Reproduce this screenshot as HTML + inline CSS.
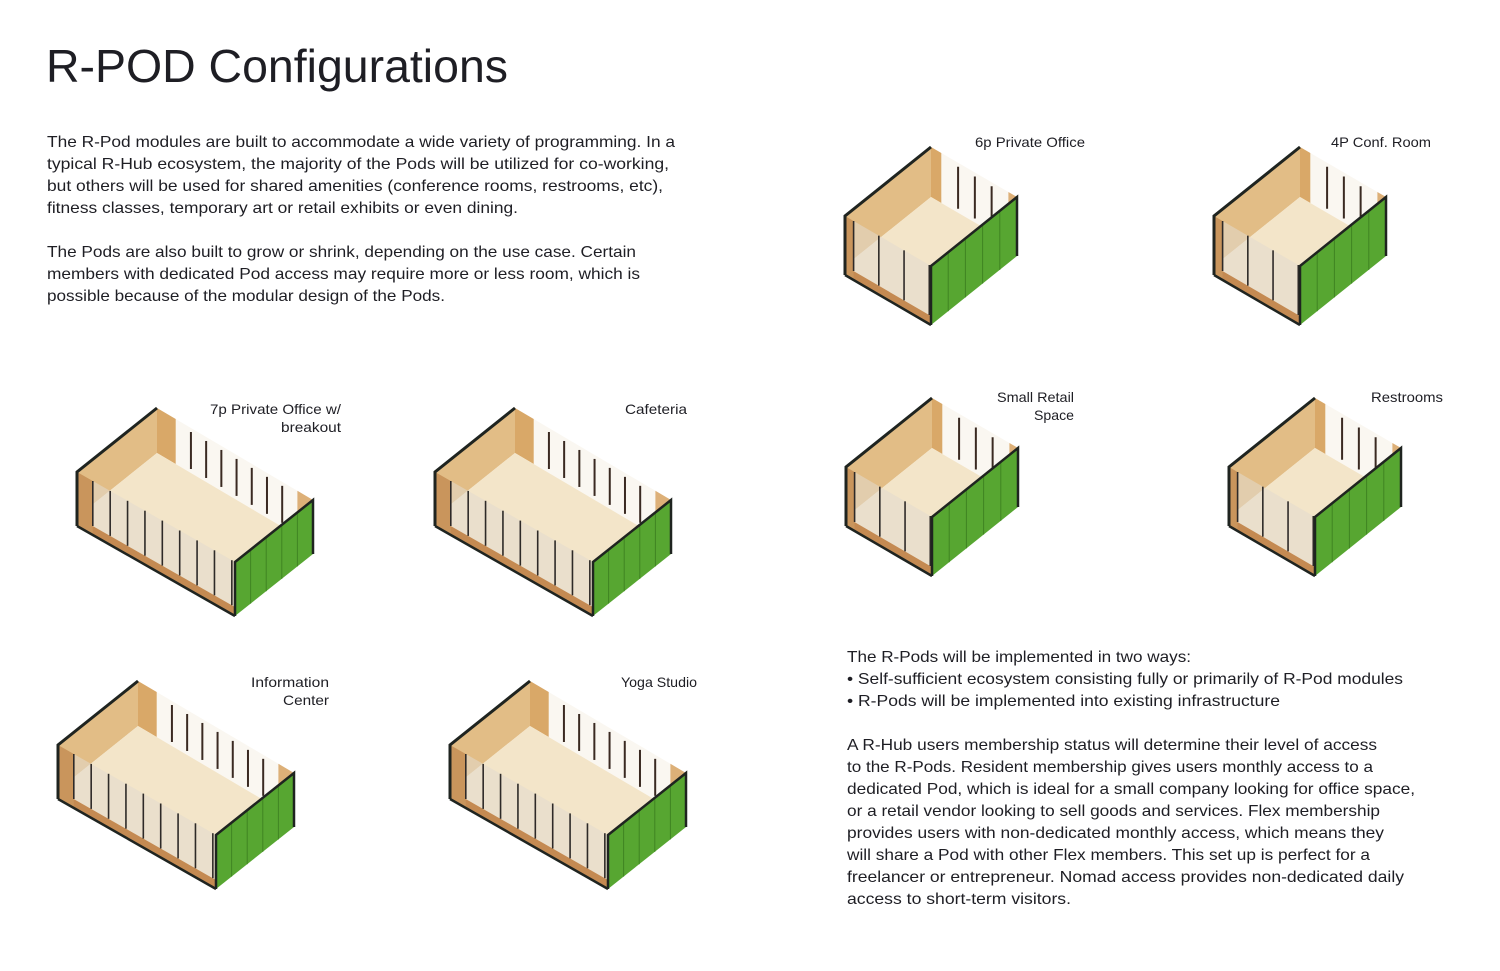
<!DOCTYPE html>
<html><head><meta charset="utf-8">
<style>
html,body{margin:0;padding:0;background:#fff;}
svg{display:block;}
text{font-family:"Liberation Sans",sans-serif;fill:#1e1e24;}
</style></head>
<body>
<svg id="s" width="1500" height="971" viewBox="0 0 1500 971" xmlns="http://www.w3.org/2000/svg">
<rect width="1500" height="971" fill="#fff"/>
<text x="46" y="82" font-size="46" textLength="462" lengthAdjust="spacingAndGlyphs" fill="#22232b">R-POD Configurations</text>
<g font-size="16">
<text x="47" y="147" textLength="628" lengthAdjust="spacingAndGlyphs">The R-Pod modules are built to accommodate a wide variety of programming. In a</text>
<text x="47" y="169" textLength="622" lengthAdjust="spacingAndGlyphs">typical R-Hub ecosystem, the majority of the Pods will be utilized for co-working,</text>
<text x="47" y="191" textLength="616" lengthAdjust="spacingAndGlyphs">but others will be used for shared amenities (conference rooms, restrooms, etc),</text>
<text x="47" y="213" textLength="471" lengthAdjust="spacingAndGlyphs">fitness classes, temporary art or retail exhibits or even dining.</text>
<text x="47" y="257" textLength="589" lengthAdjust="spacingAndGlyphs">The Pods are also built to grow or shrink, depending on the use case. Certain</text>
<text x="47" y="279" textLength="593" lengthAdjust="spacingAndGlyphs">members with dedicated Pod access may require more or less room, which is</text>
<text x="47" y="301" textLength="398" lengthAdjust="spacingAndGlyphs">possible because of the modular design of the Pods.</text>

<text x="847" y="662" textLength="344" lengthAdjust="spacingAndGlyphs">The R-Pods will be implemented in two ways:</text>
<text x="847" y="684" textLength="556" lengthAdjust="spacingAndGlyphs">• Self-sufficient ecosystem consisting fully or primarily of R-Pod modules</text>
<text x="847" y="706" textLength="433" lengthAdjust="spacingAndGlyphs">• R-Pods will be implemented into existing infrastructure</text>
<text x="847" y="750" textLength="530" lengthAdjust="spacingAndGlyphs">A R-Hub users membership status will determine their level of access</text>
<text x="847" y="772" textLength="526" lengthAdjust="spacingAndGlyphs">to the R-Pods. Resident membership gives users monthly access to a</text>
<text x="847" y="794" textLength="568" lengthAdjust="spacingAndGlyphs">dedicated Pod, which is ideal for a small company looking for office space,</text>
<text x="847" y="816" textLength="533" lengthAdjust="spacingAndGlyphs">or a retail vendor looking to sell goods and services. Flex membership</text>
<text x="847" y="838" textLength="537" lengthAdjust="spacingAndGlyphs">provides users with non-dedicated monthly access, which means they</text>
<text x="847" y="860" textLength="523" lengthAdjust="spacingAndGlyphs">will share a Pod with other Flex members. This set up is perfect for a</text>
<text x="847" y="882" textLength="557" lengthAdjust="spacingAndGlyphs">freelancer or entrepreneur. Nomad access provides non-dedicated daily</text>
<text x="847" y="904" textLength="224" lengthAdjust="spacingAndGlyphs">access to short-term visitors.</text>
</g>
<g font-size="14">
<text x="975" y="147" textLength="110" lengthAdjust="spacingAndGlyphs">6p Private Office</text>
<text x="1331" y="147" textLength="100" lengthAdjust="spacingAndGlyphs">4P Conf. Room</text>
<text x="210" y="414" textLength="131" lengthAdjust="spacingAndGlyphs">7p Private Office w/</text>
<text x="281" y="432" textLength="60" lengthAdjust="spacingAndGlyphs">breakout</text>
<text x="625" y="414" textLength="62" lengthAdjust="spacingAndGlyphs">Cafeteria</text>
<text x="997" y="402" textLength="77" lengthAdjust="spacingAndGlyphs">Small Retail</text>
<text x="1034" y="420" textLength="40" lengthAdjust="spacingAndGlyphs">Space</text>
<text x="1371" y="402" textLength="72" lengthAdjust="spacingAndGlyphs">Restrooms</text>
<text x="251" y="687" textLength="78" lengthAdjust="spacingAndGlyphs">Information</text>
<text x="283" y="705" textLength="46" lengthAdjust="spacingAndGlyphs">Center</text>
<text x="621" y="687" textLength="76" lengthAdjust="spacingAndGlyphs">Yoga Studio</text>
</g>
<g id="pods"></g>
</svg>
<script>
var g=document.getElementById('pods');var out='';
function P(a){return a.map(function(p){return p[0].toFixed(1)+','+p[1].toFixed(1)}).join(' ');}
function add(p,q){return [p[0]+q[0],p[1]+q[1]];}
function lerp(p,q,t){return [p[0]+(q[0]-p[0])*t,p[1]+(q[1]-p[1])*t];}
function pod(A,B,C,D,h,nb,nf){
 var H=[0,h],dk=[0,9];
 var Ah=add(A,H),Bh=add(B,H),Ch=add(C,H),Dh=add(D,H);
 out+='<polygon points="'+P([A,B,Bh,Ah])+'" fill="#e2bd86"/>';
 out+='<polygon points="'+P([B,C,Ch,Bh])+'" fill="#faf7f1"/>';
 out+='<polygon points="'+P([B,lerp(B,C,0.12),lerp(Bh,Ch,0.12),Bh])+'" fill="#d9a868"/>';
 out+='<polygon points="'+P([lerp(B,C,0.9),C,Ch,lerp(Bh,Ch,0.9)])+'" fill="#ddb078"/>';
 for(var i=1;i<nb;i++){var t=0.12+0.78*i/nb;var p=lerp(B,C,t),q=lerp(Bh,Ch,t);
  out+='<line x1="'+p[0]+'" y1="'+(p[1]+4)+'" x2="'+q[0]+'" y2="'+(q[1]-4)+'" stroke="#3a2a22" stroke-width="2"/>';}
 out+='<polygon points="'+P([Ah,Bh,Ch,Dh])+'" fill="#f3e5c9"/>';
 out+='<polygon points="'+P([Ah,Dh,add(Dh,dk),add(Ah,dk)])+'" fill="#c48a52"/>';
 var Ai=lerp(A,D,0.1),Aih=lerp(Ah,Dh,0.1);
 out+='<polygon points="'+P([A,Ai,add(Aih,dk),add(Ah,dk)])+'" fill="#c9955c"/>';
 out+='<polygon points="'+P([Ai,D,Dh,Aih])+'" fill="rgba(225,218,205,0.55)"/>';
 for(var j=0;j<=nf;j++){var t2=0.1+0.88*j/nf;var p2=lerp(A,D,t2),q2=lerp(Ah,Dh,t2);
  out+='<line x1="'+p2[0]+'" y1="'+p2[1]+'" x2="'+q2[0]+'" y2="'+q2[1]+'" stroke="#2e2a28" stroke-width="1.6"/>';}
 out+='<polygon points="'+P([D,C,add(Ch,dk),add(Dh,dk)])+'" fill="#57a631"/>';
 for(var k=1;k<5;k++){var p3=lerp(D,C,k/5),q3=lerp(add(Dh,dk),add(Ch,dk),k/5);
  out+='<line x1="'+p3[0]+'" y1="'+p3[1]+'" x2="'+q3[0]+'" y2="'+q3[1]+'" stroke="#3f8422" stroke-width="1"/>';}
 out+='<polyline points="'+P([add(A,[0,6]),A,B])+'" fill="none" stroke="#1f2420" stroke-width="3"/>';
 out+='<line x1="'+A[0]+'" y1="'+A[1]+'" x2="'+A[0]+'" y2="'+(Ah[1]+9)+'" stroke="#1f2420" stroke-width="3"/>';
 out+='<polyline points="'+P([add(Ah,dk),add(Dh,dk)])+'" fill="none" stroke="#1f2420" stroke-width="2.5"/>';
 out+='<polyline points="'+P([add(Dh,dk),D,C,add(Ch,dk)])+'" fill="none" stroke="#1f2420" stroke-width="2.5"/>';
}
function small(dx,dy){var A=[845+dx,216+dy],B=[931+dx,147+dy],C=[1017+dx,197+dy],D=[A[0]+86,A[1]+50];pod(A,B,C,D,50,4,3);}
function big(dx,dy){var A=[77+dx,472+dy],B=[157+dx,408+dy],C=[313+dx,500+dy],D=[235+dx,562+dy];pod(A,B,C,D,45,8,8);}
small(0,0);small(369,0);small(1,251);small(384,251);
big(0,0);big(358,0);big(-19,273);big(373,273);
g.innerHTML=out;
</script>
</body></html>
